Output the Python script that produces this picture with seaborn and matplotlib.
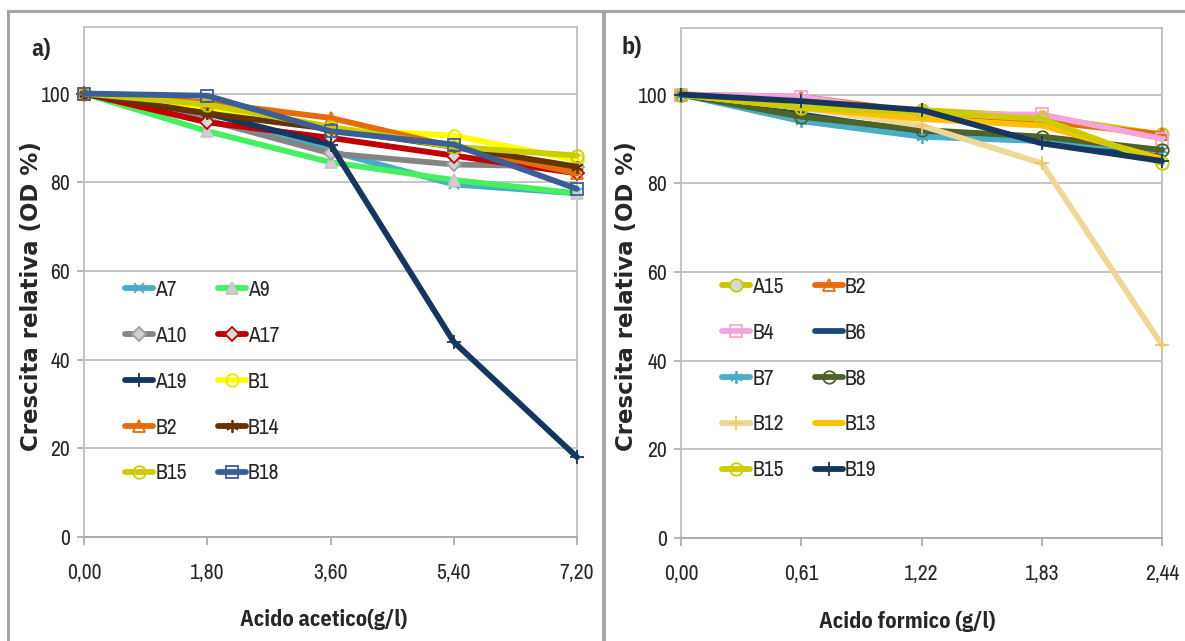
import matplotlib
matplotlib.use("Agg")
import matplotlib.pyplot as plt
from matplotlib.patches import Rectangle
import seaborn as sns

# ---------------- data ----------------
acetic_x = [0.0, 1.8, 3.6, 5.4, 7.2]
acetic_ticks = ["0,00", "1,80", "3,60", "5,40", "7,20"]
formic_x = [0.0, 0.61, 1.22, 1.83, 2.44]
formic_ticks = ["0,00", "0,61", "1,22", "1,83", "2,44"]

# panel a) acido acetico
a_A7 = [100, 96.0, 87.0, 79.5, 77.5]
a_A9 = [100, 91.5, 84.5, 80.5, 77.5]
a_A10 = [100, 94.0, 86.5, 84.0, 83.5]
a_A17 = [100, 93.5, 90.0, 86.0, 82.0]
a_A19 = [100, 95.5, 88.5, 44.0, 18.0]
a_B1 = [100, 97.0, 92.0, 90.5, 85.0]
a_B2 = [100, 98.0, 94.5, 88.0, 82.0]
a_B14 = [100, 95.5, 92.0, 88.0, 83.5]
a_B15 = [100, 97.5, 92.5, 88.0, 86.0]
a_B18 = [100, 99.5, 91.5, 88.5, 78.5]
a_names = ["A7", "A9", "A10", "A17", "A19", "B1", "B2", "B14", "B15", "B18"]
a_values = [a_A7, a_A9, a_A10, a_A17, a_A19, a_B1, a_B2, a_B14, a_B15, a_B18]

# panel b) acido formico
b_A15 = [100, 97.0, 96.5, 95.0, 91.0]
b_B2 = [100, 99.5, 96.0, 94.0, 91.0]
b_B4 = [100, 99.5, 95.5, 95.5, 90.0]
b_B6 = [100, 95.5, 91.5, 89.5, 86.0]
b_B7 = [100, 94.0, 90.5, 89.5, 87.5]
b_B8 = [100, 95.0, 92.0, 90.5, 87.5]
b_B12 = [100, 97.0, 93.0, 84.5, 43.5]
b_B13 = [100, 97.0, 94.5, 93.0, 85.5]
b_B15 = [100, 97.0, 96.0, 94.5, 84.5]
b_B19 = [100, 98.5, 96.5, 89.0, 85.0]
b_names = ["A15", "B2", "B4", "B6", "B7", "B8", "B12", "B13", "B15", "B19"]
b_values = [b_A15, b_B2, b_B4, b_B6, b_B7, b_B8, b_B12, b_B13, b_B15, b_B19]

yticks = [0, 20, 40, 60, 80, 100]

# ---------------- styles ----------------
STAR = (6, 2, 0)
a_styles = {
    "A7":  dict(color="#4bacc6", marker="x", mfc="#4bacc6", mec="#4bacc6", ms=7),
    "A9":  dict(color="#44f060", marker="^", mfc="#d0d0d0", mec="#c8c8c8", ms=8),
    "A10": dict(color="#858585", marker="D", mfc="#d0d0d0", mec="#a0a0a0", ms=7),
    "A17": dict(color="#c00000", marker="D", mfc="#d9d9d9", mec="#c00000", ms=7),
    "A19": dict(color="#17365d", marker="+", mfc="#17365d", mec="#17365d", ms=10),
    "B1":  dict(color="#ffff00", marker="o", mfc="none", mec="#e8e800", ms=9),
    "B2":  dict(color="#e46c0a", marker="^", mfc="none", mec="#e46c0a", ms=9),
    "B14": dict(color="#663300", marker=STAR, mfc="#663300", mec="#663300", ms=9),
    "B15": dict(color="#cccc00", marker="o", mfc="none", mec="#cccc00", ms=9),
    "B18": dict(color="#3a5f96", marker="s", mfc="none", mec="#3a5f96", ms=8),
}
b_styles = {
    "A15": dict(color="#c8c800", marker="o", mfc="#d9d9d9", mec="#c8c800", ms=9),
    "B2":  dict(color="#e46c0a", marker="^", mfc="none", mec="#e46c0a", ms=9),
    "B4":  dict(color="#f4a6dc", marker="s", mfc="none", mec="#f4a6dc", ms=9),
    "B6":  dict(color="#1f497d", marker=None, mfc="none", mec="#1f497d", ms=0),
    "B7":  dict(color="#4bacc6", marker=STAR, mfc="#4bacc6", mec="#4bacc6", ms=9),
    "B8":  dict(color="#4f6228", marker="o", mfc="none", mec="#4f6228", ms=9),
    "B12": dict(color="#eed898", marker="+", mfc="#eed898", mec="#e6c870", ms=10),
    "B13": dict(color="#ffc000", marker=None, mfc="none", mec="#ffc000", ms=0),
    "B15": dict(color="#cccc00", marker="o", mfc="none", mec="#cccc00", ms=9),
    "B19": dict(color="#17365d", marker="+", mfc="#17365d", mec="#17365d", ms=10),
}

sns.set_style("white")
NARROW = ["Archivo Narrow", "IBM Plex Sans Condensed", "DejaVu Sans"]
NARROW_BOLD = ["IBM Plex Sans Condensed", "DejaVu Sans"]
plt.rcParams["font.family"] = NARROW

W, H = 1185, 641
fig = plt.figure(figsize=(W / 100, H / 100), dpi=100)

GRID = "#bfbfbf"
FS = 15.5


def draw_panel(ax, xs, ticks, names, values, styles, xmax):
    handles = {}
    for name, vals in zip(names, values):
        st = styles[name]
        sns.lineplot(x=xs, y=vals, ax=ax, color=st["color"], linewidth=4.2,
                     marker=st["marker"], markersize=st["ms"],
                     markerfacecolor=st["mfc"], markeredgecolor=st["mec"],
                     markeredgewidth=1.3, errorbar=None, legend=False,
                     clip_on=False, zorder=3)
        line = ax.lines[-1]
        line.set_label(name)
        handles[name] = line
    ax.set_xlim(0, xmax)
    ax.set_ylim(0, 115)
    ax.set_xticks(xs)
    ax.set_xticklabels(ticks)
    ax.set_yticks(yticks)
    ax.set_yticklabels([str(v) for v in yticks])
    ax.yaxis.grid(True, color=GRID, linewidth=1.3)
    ax.xaxis.grid(False)
    ax.set_axisbelow(True)
    for s in ax.spines.values():
        s.set_color(GRID)
        s.set_linewidth(1.3)
    ax.spines["bottom"].set_color("#a8a8a8")
    ax.tick_params(axis="x", direction="out", length=6, width=1.2, color="#a8a8a8",
                   pad=13, labelsize=FS, bottom=True)
    ax.tick_params(axis="y", direction="out", length=5, width=1.2, color="#a8a8a8",
                   pad=5, labelsize=FS, left=True)
    ax.set_xlabel("")
    ax.set_ylabel("")
    return handles


ax1 = fig.add_axes([84 / W, 1 - 537 / H, (577 - 84) / W, (537 - 27) / H])
ax2 = fig.add_axes([681 / W, 1 - 538 / H, (1162 - 681) / W, (538 - 28) / H])

h1 = draw_panel(ax1, acetic_x, acetic_ticks, a_names, a_values, a_styles, 7.2)
h2 = draw_panel(ax2, formic_x, formic_ticks, b_names, b_values, b_styles, 2.44)


def add_legend(ax, handles, names, x_px, y_px):
    # Excel legend reads row by row; matplotlib fills column by column
    col1 = names[0::2]
    col2 = names[1::2]
    order = col1 + col2
    ax.legend([handles[n] for n in order], order, ncol=2, loc="upper left",
              bbox_to_anchor=(x_px / W, 1 - y_px / H), bbox_transform=fig.transFigure,
              frameon=False, fontsize=FS, handlelength=1.3, handletextpad=0.1,
              columnspacing=1.45, labelspacing=1.2, borderpad=0, borderaxespad=0,
              numpoints=1)


add_legend(ax1, h1, a_names, 125, 280)
add_legend(ax2, h2, b_names, 722, 277)

# panel frames
FRAME = "#a6a6a6"
fig.patches.append(Rectangle((8 / W, -0.02), (603 - 8) / W, (641 - 11) / H + 0.02,
                             transform=fig.transFigure, fill=False, ec=FRAME, lw=2.2))
fig.patches.append(Rectangle((604 / W, -0.02), (1195 - 604) / W, (641 - 11) / H + 0.02,
                             transform=fig.transFigure, fill=False, ec=FRAME, lw=2.2))

# texts
fig.text(41 / W, 1 - 49 / H, "a)", fontsize=17, fontweight="bold", family=NARROW_BOLD,
         ha="center", va="center")
fig.text(632 / W, 1 - 48 / H, "b)", fontsize=17, fontweight="bold", family=NARROW_BOLD,
         ha="center", va="center")
for xp in (32, 627):
    fig.text(xp / W, 1 - 296 / H, "Crescita relativa (OD %)", rotation=90,
             family=["DejaVu Sans"], fontweight="bold", fontsize=16.5,
             ha="center", va="center")
fig.text(324 / W, 1 - 620 / H, "Acido acetico(g/l)", fontsize=16, fontweight="bold",
         family=NARROW_BOLD, ha="center", va="center")
fig.text(907 / W, 1 - 622 / H, "Acido formico (g/l)", fontsize=16, fontweight="bold",
         family=NARROW_BOLD, ha="center", va="center")

fig.savefig("out.png", dpi=100)
